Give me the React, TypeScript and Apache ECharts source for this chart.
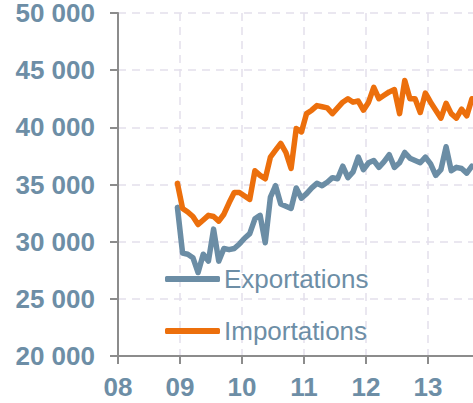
import React, { useEffect, useRef } from "react";
import * as echarts from "echarts";

// Monthly data, December 2008 to September 2013
const startYear = 2008;
const startMonth = 12;
const exportations = [
  33000,
  29000, 28900, 28600, 27300, 28900, 28300, 31100, 28300, 29400, 29300, 29400, 29800,
  30300, 30700, 32000, 32300, 29900, 33900, 34900, 33300, 33100, 32900, 34700, 33800,
  34200, 34700, 35100, 34900, 35200, 35600, 35500, 36600, 35600, 36100, 37400, 36300,
  36900, 37100, 36500, 37000, 37600, 36500, 36900, 37800, 37300, 37100, 36900, 37400,
  36800, 35800, 36300, 38300, 36200, 36500, 36400, 36000, 36600,
];
const importations = [
  35100,
  32900, 32600, 32200, 31500, 31900, 32300, 32200, 31800, 32400, 33400, 34300, 34300,
  34000, 33700, 36200, 35800, 35500, 37400, 38000, 38600, 37800, 36400, 39900, 39600,
  41200, 41500, 41900, 41800, 41700, 41200, 41700, 42200, 42500, 42200, 42300, 41500,
  42200, 43500, 42500, 42800, 43100, 43300, 41200, 44100, 42500, 42500, 41300, 43000,
  42200, 41500, 40800, 42100, 41200, 40800, 41600, 41000, 42500,
];
const seriesNames = ["Exportations", "Importations"];
const yTicks = [20000, 25000, 30000, 35000, 40000, 45000, 50000];
const xYears = [2008, 2009, 2010, 2011, 2012, 2013, 2014];

const toPoints = (vals: number[]) =>
  vals.map((v, i) => {
    const m = startMonth - 1 + i;
    const x = startYear + (m + 0.5) / 12;
    return [x, v];
  });

export default function App() {
  const ref = useRef<HTMLDivElement>(null);
  useEffect(() => {
    if (!ref.current) return;
    const chart = echarts.init(ref.current, undefined, { renderer: "svg" });
    const labelColor = "#6d8ea6";
    const gridColor = "#e3dfec";
    const axisColor = "#8c8c8c";
    chart.setOption({
      animation: false,
      textStyle: { fontFamily: "Liberation Sans, Arial, sans-serif" },
      grid: { left: 118, top: 12, bottom: 47, right: 0 },
      legend: {
        orient: "vertical",
        left: 165,
        top: 266,
        padding: 0,
        itemGap: 26,
        itemWidth: 55,
        itemHeight: 6,
        icon: "roundRect",
        data: seriesNames,
        textStyle: {
          color: labelColor,
          fontSize: 26,
          fontFamily: "Liberation Sans, Arial, sans-serif",
          padding: [0, 0, 0, -1],
        },
      },
      xAxis: {
        type: "value",
        min: xYears[0],
        max: xYears[xYears.length - 1],
        interval: 1,
        axisLine: { show: true, lineStyle: { color: axisColor, width: 2 } },
        axisTick: { show: true, length: 8, lineStyle: { color: axisColor, width: 2 } },
        axisLabel: {
          margin: 18,
          color: labelColor,
          fontSize: 26,
          fontWeight: "bold",
          showMaxLabel: false,
          fontFamily: "Liberation Sans, Arial, sans-serif",
          formatter: (v: number) => (Number.isInteger(v) ? String(v).slice(2) : ""),
        },
        splitLine: {
          show: true,
          lineStyle: { color: gridColor, type: [8, 6], width: 1.5 },
        },
      },
      yAxis: {
        type: "value",
        min: yTicks[0],
        max: yTicks[yTicks.length - 1],
        interval: 5000,
        axisLine: { show: true, lineStyle: { color: axisColor, width: 2 } },
        axisTick: { show: true, length: 8, lineStyle: { color: axisColor, width: 2 } },
        axisLabel: {
          margin: 23,
          color: labelColor,
          fontSize: 26,
          fontWeight: "bold",
          fontFamily: "Liberation Sans, Arial, sans-serif",
          formatter: (v: number) => String(v).replace(/\B(?=(\d{3})+(?!\d))/g, " "),
        },
        splitLine: {
          show: true,
          lineStyle: { color: gridColor, type: [8, 6], width: 1.5 },
        },
      },
      series: [
        {
          name: seriesNames[0],
          type: "line",
          data: toPoints(exportations),
          showSymbol: false,
          color: "#6b8da5",
          lineStyle: { width: 5.5, color: "#6b8da5", cap: "round", join: "round" },
        },
        {
          name: seriesNames[1],
          type: "line",
          data: toPoints(importations),
          showSymbol: false,
          color: "#ec6f0c",
          lineStyle: { width: 5.5, color: "#ec6f0c", cap: "round", join: "round" },
        },
      ],
    });
    return () => chart.dispose();
  }, []);
  return (
    <div style={{ position: "absolute", left: 0, top: 0, width: 473, height: 403, overflow: "hidden", background: "#fff" }}>
      <div ref={ref} style={{ width: 490, height: 403 }} />
    </div>
  );
}
